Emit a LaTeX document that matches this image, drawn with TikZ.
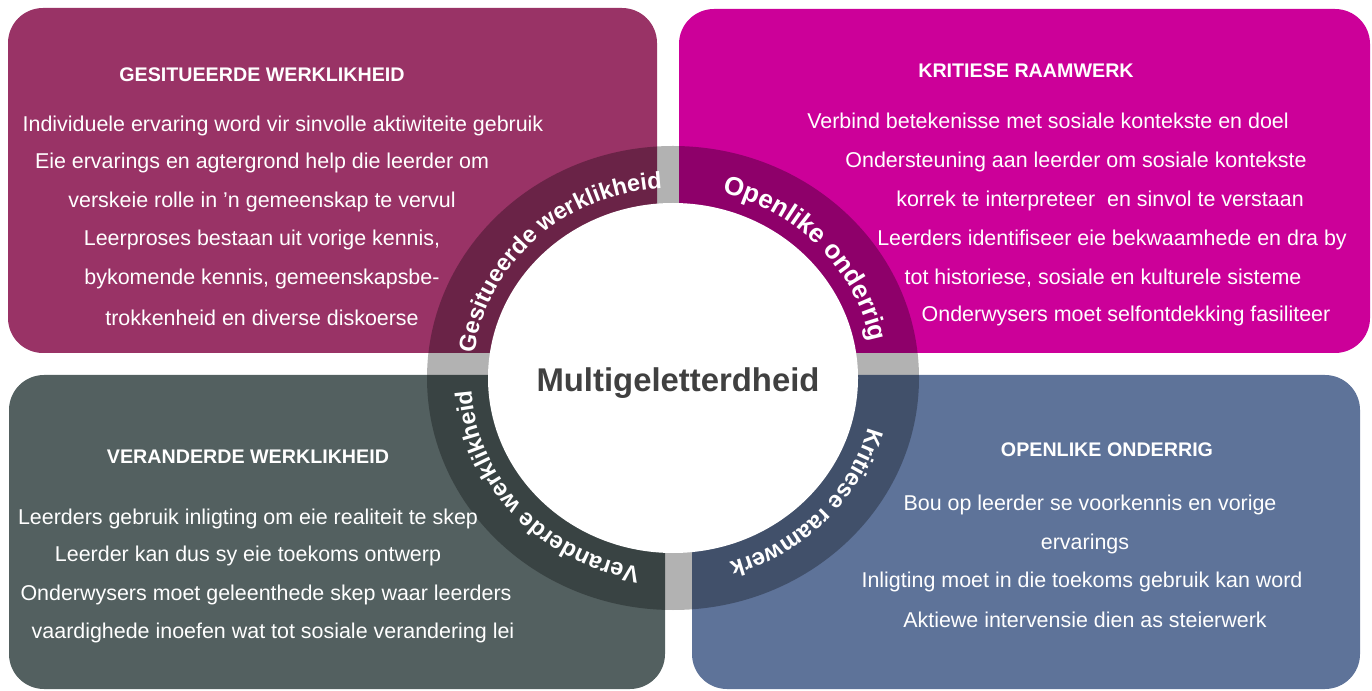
\documentclass[tikz,border=0pt]{standalone}
\usepackage{fontspec}
\setmainfont{Liberation Sans}
\usetikzlibrary{decorations.text}

\definecolor{situated}{HTML}{993366}
\definecolor{critical}{HTML}{CC0099}
\definecolor{transformed}{HTML}{536060}
\definecolor{overt}{HTML}{5E7399}
\definecolor{hubtext}{HTML}{404040}

\newcommand\ringfont{\fontsize{13.4}{13.4}\selectfont\bfseries}
\newcommand\ringfontbig{\fontsize{14.8}{14.8}\selectfont\bfseries}

\tikzset{
  quadrant/.style={rounded corners=0.7cm},
  heading/.style={font=\fontsize{11.2}{12}\selectfont\bfseries, text=white, inner sep=0},
  bodytext/.style={font=\fontsize{12.2}{14}\selectfont, text=white, inner sep=0},
  ringlabel/.style={decorate, decoration={text along path, text align=center, text color=white}}
}

\begin{document}
\begin{tikzpicture}[x=0.02cm, y=0.02cm]
  \useasboundingbox (0,0) rectangle (1372,690);

  \fill[situated, quadrant] (8,337) rectangle (657,682);
  \fill[critical, quadrant] (679,337) rectangle (1370,681);
  \fill[transformed, quadrant] (9,1) rectangle (665,315);
  \fill[overt, quadrant] (692,1) rectangle (1360,315);

  % ring round the hub
  \coordinate (hub) at (673,312);
  \fill[black, opacity=0.3] (hub) ellipse[x radius=246, y radius=232];
  \fill[white] (hub) ellipse[x radius=185, y radius=175];

  \path[ringlabel, decoration={text={|\ringfont|Gesitueerde werklikheid}}]
    (hub) ++(178:200 and 190) arc[start angle=178, end angle=88, x radius=200, y radius=190];
  \path[ringlabel, decoration={text={|\ringfontbig|Openlike onderrig}}]
    (hub) ++(88:201 and 191) arc[start angle=88, end angle=-2, x radius=201, y radius=191];
  \path[ringlabel, decoration={text={|\ringfont|Kritiese raamwerk}}]
    (hub) ++(1:202 and 192) arc[start angle=1, end angle=-89, x radius=202, y radius=192];
  \path[ringlabel, decoration={text={|\ringfont|Veranderde werklikheid}}]
    (hub) ++(-93:202 and 192) arc[start angle=-93, end angle=-183, x radius=202, y radius=192];

  \node[font=\fontsize{18.7}{20}\selectfont\bfseries, text=hubtext] (hubname) at (678,307) {Multigeletterdheid};

  % top left
  \node[heading] (sitHead) at (262,615) {GESITUEERDE WERKLIKHEID};
  \node[bodytext] (sit1) at (283,564) {Individuele ervaring word vir sinvolle aktiwiteite gebruik};
  \node[bodytext] (sit2) at (262,527) {Eie ervarings en agtergrond help die leerder om};
  \node[bodytext] (sit3) at (262,488) {verskeie rolle in ’n gemeenskap te vervul};
  \node[bodytext] (sit4) at (262,450) {Leerproses bestaan uit vorige kennis,};
  \node[bodytext] (sit5) at (262,411) {bykomende kennis, gemeenskapsbe-};
  \node[bodytext] (sit6) at (262,372) {trokkenheid en diverse diskoerse};

  % top right
  \node[heading] (critHead) at (1026,619) {KRITIESE RAAMWERK};
  \node[bodytext] (crit1) at (1048,569) {Verbind betekenisse met sosiale kontekste en doel};
  \node[bodytext] (crit2) at (1076,528) {Ondersteuning aan leerder om sosiale kontekste};
  \node[bodytext] (crit3) at (1100,489) {korrek te interpreteer\ \ en sinvol te verstaan};
  \node[bodytext] (crit4) at (1112,450) {Leerders identifiseer eie bekwaamhede en dra by};
  \node[bodytext] (crit5) at (1103,412) {tot historiese, sosiale en kulturele sisteme};
  \node[bodytext] (crit6) at (1126,374) {Onderwysers moet selfontdekking fasiliteer};

  % bottom left
  \node[heading] (transHead) at (248,233) {VERANDERDE WERKLIKHEID};
  \node[bodytext] (trans1) at (248,171) {Leerders gebruik inligting om eie realiteit te skep};
  \node[bodytext] (trans2) at (248,134) {Leerder kan dus sy eie toekoms ontwerp};
  \node[bodytext] (trans3) at (266,95) {Onderwysers moet geleenthede skep waar leerders};
  \node[bodytext] (trans4) at (273,57) {vaardighede inoefen wat tot sosiale verandering lei};

  % bottom right
  \node[heading] (overtHead) at (1107,240) {OPENLIKE ONDERRIG};
  \node[bodytext] (overt1) at (1090,185) {Bou op leerder se voorkennis en vorige};
  \node[bodytext] (overt2) at (1085,146) {ervarings};
  \node[bodytext] (overt3) at (1082,108) {Inligting moet in die toekoms gebruik kan word};
  \node[bodytext] (overt4) at (1085,70) {Aktiewe intervensie dien as steierwerk};
\end{tikzpicture}
\end{document}
